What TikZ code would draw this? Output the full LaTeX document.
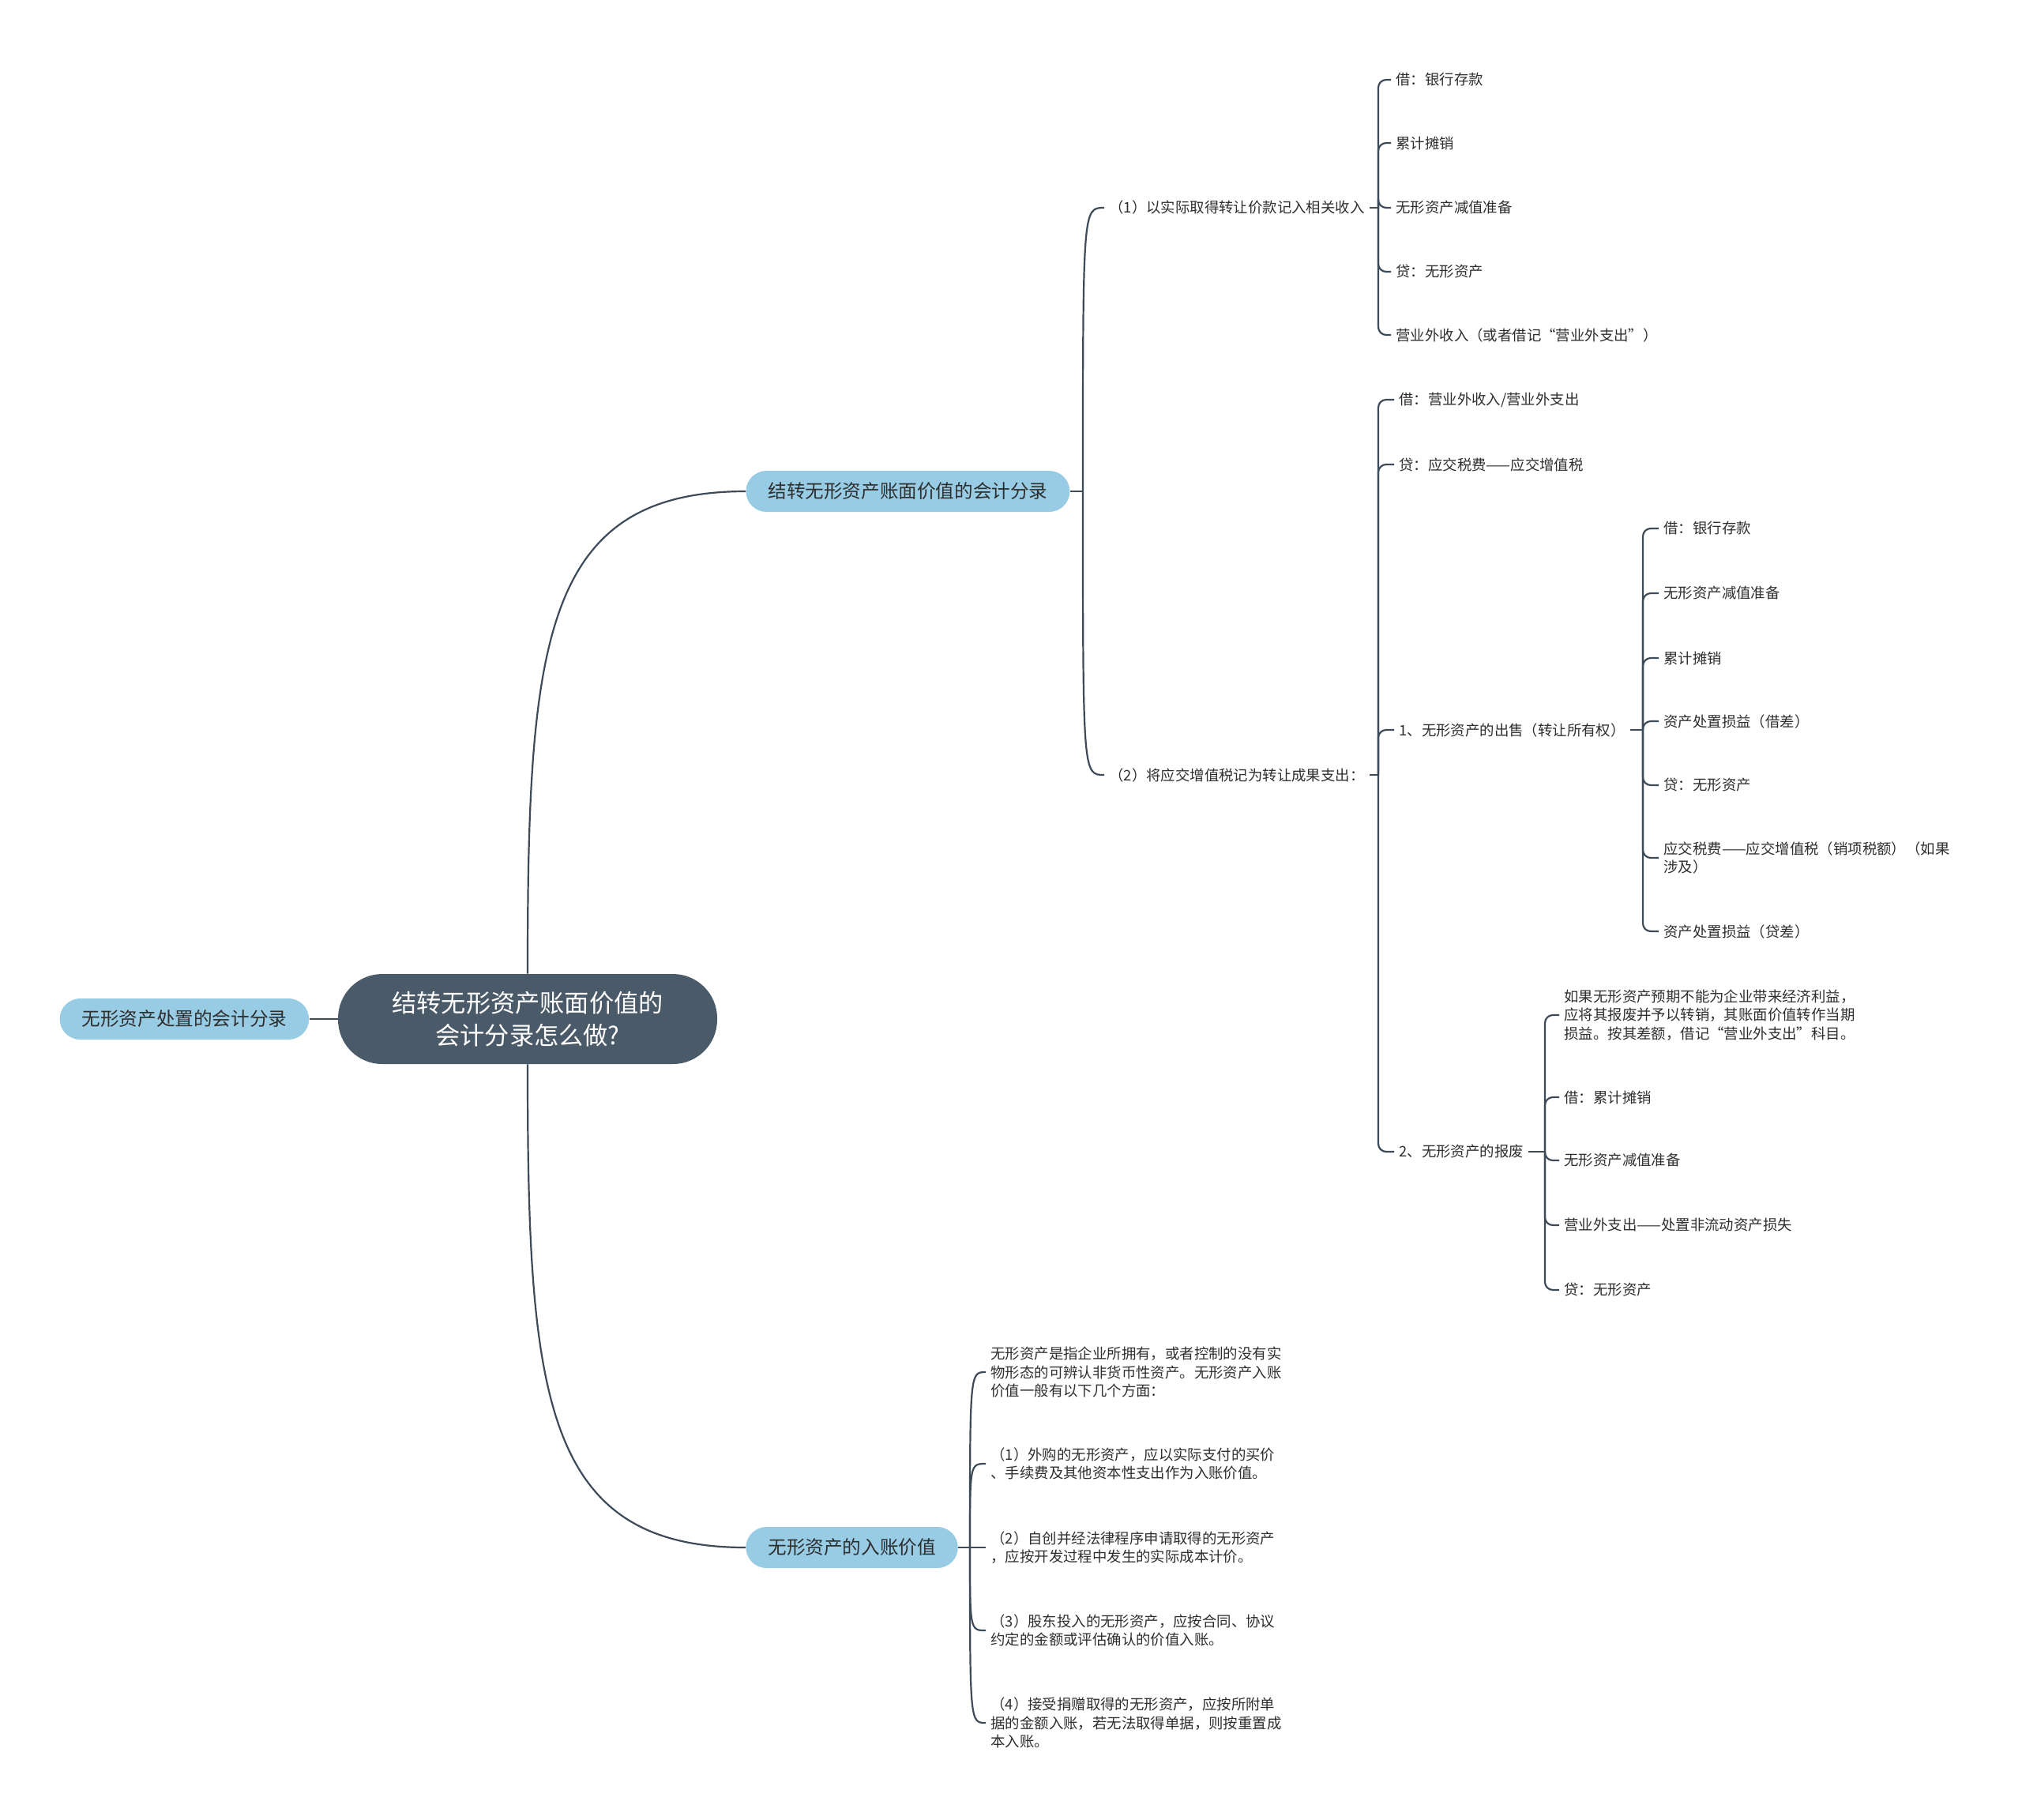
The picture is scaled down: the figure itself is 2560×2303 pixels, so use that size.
\documentclass[tikz,border=0pt]{standalone}
\usepackage{fontspec}
\setmainfont{Noto Sans CJK SC}
\usepackage{tikz}
\usetikzlibrary{positioning}
\usepackage{xcolor}
\definecolor{rootfill}{HTML}{4B5A69}
\definecolor{topicfill}{HTML}{97CCE4}
\definecolor{linedark}{HTML}{3D4B59}
\definecolor{textdark}{HTML}{2E2E2E}

\begin{document}
\begin{tikzpicture}[
      x=0.5pt, y=-0.5pt,
      every node/.style={text=textdark},
      rootbox/.style={fill=rootfill, text=white, rounded corners=28pt,
        minimum width=240pt, minimum height=57pt, align=center,
        font=\fontsize{15.6pt}{20.4pt}\selectfont},
      topicbox/.style={fill=topicfill, rounded corners=13pt, minimum height=26pt,
        inner xsep=14pt, font=\fontsize{11.8pt}{14pt}\selectfont},
      leaf/.style={anchor=west, align=left, inner xsep=3pt, inner ysep=2pt,
        font=\fontsize{9.2pt}{11.9pt}\selectfont},
      link/.style={draw=linedark, line width=1.1pt},
      bracket/.style={link, rounded corners=5pt}
    ]
      \useasboundingbox (0,0) rectangle (2560,2303);

      % Centre
      \node[rootbox] (root) at (668,1290) {结转无形资产账面价值的\\会计分录怎么做?};
      \node[topicbox, left=18pt of root] (side) {无形资产处置的会计分录};
      \node[topicbox, anchor=west] (t1) at (944,622) {结转无形资产账面价值的会计分录};
      \node[topicbox, anchor=west] (t2) at (944,1959) {无形资产的入账价值};

      \draw[link] (side) -- (root);
      \draw[link] (root.north) .. controls +(0,-417) and +(-258,0) .. (t1.west);
      \draw[link] (root.south) .. controls +(0,416) and +(-258,0) .. (t2.west);

      % Branch 1
      \coordinate (j1) at (1371,622);
      \draw[link] (t1.east) -- (j1);
      \node[leaf] (c1) at (1398,263) {（1）以实际取得转让价款记入相关收入};
      \node[leaf] (c2) at (1398,981) {（2）将应交增值税记为转让成果支出：};
      \foreach \c in {c1,c2}
        \draw[link] (j1) .. controls (j1 |- \c.west) .. (\c.west);

      % (1)
      \coordinate (k1) at (1745,263);
      \draw[link] (c1.east) -- (k1);
      \foreach \txt/\yy [count=\i] in {
        借：银行存款/101,
        累计摊销/181,
        无形资产减值准备/263,
        贷：无形资产/344,
        营业外收入（或者借记“营业外支出”）/424%
      }{
        \node[leaf] (e\i) at (1761,\yy) {\txt};
        \draw[bracket] (k1) |- (e\i.west);
      }

      % (2)
      \coordinate (k2) at (1745,981);
      \draw[link] (c2.east) -- (k2);
      \node[leaf] (d1) at (1765,506) {借：营业外收入/营业外支出};
      \node[leaf] (d2) at (1765,588) {贷：应交税费——应交增值税};
      \node[leaf] (d3) at (1765,924) {1、无形资产的出售（转让所有权）};
      \node[leaf] (d4) at (1765,1458) {2、无形资产的报废};
      \foreach \d in {d1,d2,d3,d4}
        \draw[bracket] (k2) |- (\d.west);

      % sale
      \coordinate (k3) at (2080,924);
      \draw[link] (d3.east) -- (k3);
      \foreach \txt/\yy [count=\i] in {
        借：银行存款/669,
        无形资产减值准备/751,
        累计摊销/833,
        资产处置损益（借差）/913,
        贷：无形资产/994,
        应交税费——应交增值税（销项税额）（如果\\涉及）/1086,
        资产处置损益（贷差）/1179%
      }{
        \node[leaf] (f\i) at (2100,\yy) {\txt};
        \draw[bracket] (k3) |- (f\i.west);
      }

      % scrap
      \coordinate (k4) at (1956,1458);
      \draw[link] (d4.east) -- (k4);
      \foreach \txt/\yy [count=\i] in {
        如果无形资产预期不能为企业带来经济利益，\\应将其报废并予以转销，其账面价值转作当期\\损益。按其差额，借记“营业外支出”科目。/1285,
        借：累计摊销/1389,
        无形资产减值准备/1469,
        营业外支出——处置非流动资产损失/1551,
        贷：无形资产/1633%
      }{
        \node[leaf] (g\i) at (1974,\yy) {\txt};
        \draw[bracket] (k4) |- (g\i.west);
      }

      % Branch 2
      \coordinate (j2) at (1228,1959);
      \draw[link] (t2.east) -- (j2);
      \foreach \txt/\yy [count=\i] in {
        无形资产是指企业所拥有，或者控制的没有实\\物形态的可辨认非货币性资产。无形资产入账\\价值一般有以下几个方面：/1737,
        （1）外购的无形资产，应以实际支付的买价\\、手续费及其他资本性支出作为入账价值。/1853,
        （2）自创并经法律程序申请取得的无形资产\\，应按开发过程中发生的实际成本计价。/1959,
        （3）股东投入的无形资产，应按合同、协议\\约定的金额或评估确认的价值入账。/2064,
        （4）接受捐赠取得的无形资产，应按所附单\\据的金额入账，若无法取得单据，则按重置成\\本入账。/2181%
      }{
        \node[leaf] (h\i) at (1248,\yy) {\txt};
        \draw[link] (j2) .. controls (j2 |- h\i.west) .. (h\i.west);
      }
    \end{tikzpicture}
\end{document}
